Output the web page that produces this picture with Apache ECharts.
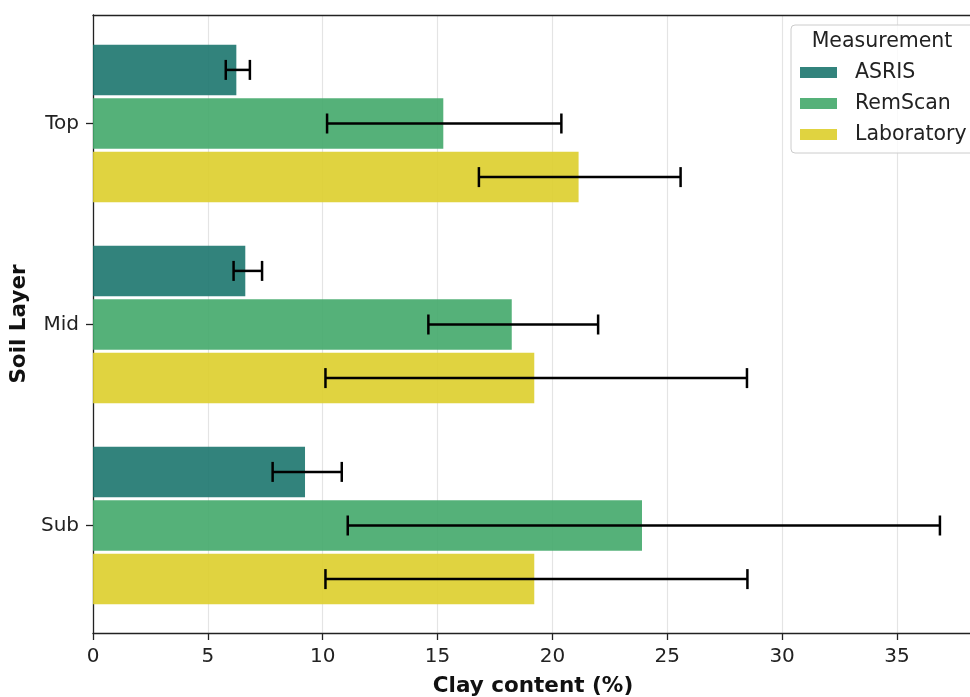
<!DOCTYPE html>
<html><head><meta charset="utf-8">
<script src="https://cdn.jsdelivr.net/npm/echarts@6/dist/echarts.min.js"></script>
<style>html,body{margin:0;padding:0;background:#fff;overflow:hidden}#c{width:970px;height:697px}</style>
</head><body><div id="c"></div>
<script>
var layers = ['Top', 'Mid', 'Sub'];
var seriesNames = ['ASRIS', 'RemScan', 'Laboratory'];
var asris = [6.24, 6.63, 9.23];
var remscan = [15.25, 18.23, 23.9];
var laboratory = [21.14, 19.21, 19.21];
// error bar extents [low, high]
var asrisErr = [[5.78, 6.83], [6.12, 7.36], [7.82, 10.83]];
var remscanErr = [[10.19, 20.39], [14.6, 21.99], [11.09, 36.87]];
var laboratoryErr = [[16.8, 25.58], [10.12, 28.47], [10.12, 28.49]];
var xTicks = [0, 5, 10, 15, 20, 25, 30, 35];

var colors = ['#1c756e', '#43a96a', '#ddce2b'];
var values = [asris, remscan, laboratory];
var errs = [asrisErr, remscanErr, laboratoryErr];
var XMAX = 38.31;
var FONT = 'DejaVu Sans';

var errData = [];
for (var k = 0; k < 3; k++) for (var c = 0; c < 3; c++) errData.push([c, errs[k][c][0], errs[k][c][1], k]);

var barSeries = seriesNames.map(function (n, k) {
  return {
    name: n, type: 'bar', xAxisIndex: 2, yAxisIndex: 1,
    data: values[k], barWidth: 50.5, barGap: '6.1%',
    itemStyle: { color: colors[k], opacity: 0.9 }, z: 2
  };
});

var chart = echarts.init(document.getElementById('c'), null, { renderer: 'canvas' });
chart.setOption({
  animation: false,
  backgroundColor: '#fff',
  textStyle: { fontFamily: FONT },
  grid: [
    { left: 93, right: -3, top: 15, bottom: 64, containLabel: false, outerBoundsMode: 'none' },
    { left: 93, right: -3, top: 23, height: 603, containLabel: false, outerBoundsMode: 'none' }
  ],
  xAxis: [
    { type: 'value', gridIndex: 0, min: 0, max: XMAX, interval: 5,
      axisLine: { show: true, lineStyle: { color: '#222', width: 1.3 } },
      axisTick: { show: true, length: 7, lineStyle: { color: '#222', width: 1.3 } },
      axisLabel: { fontSize: 20, color: '#222', fontFamily: FONT, margin: 14, showMaxLabel: false,
        formatter: function (v) { return xTicks.indexOf(v) >= 0 ? String(v) : ''; } },
      splitLine: { show: true, lineStyle: { color: '#e4e4e4', width: 1.2 } },
      name: 'Clay content (%)', nameLocation: 'middle', nameGap: 42,
      nameTextStyle: { fontSize: 21.5, fontWeight: 'bold', color: '#111', fontFamily: FONT } },
    { type: 'value', gridIndex: 0, position: 'top', min: 0, max: XMAX,
      axisLine: { show: true, onZero: false, lineStyle: { color: '#222', width: 1.3 } },
      axisTick: { show: false }, axisLabel: { show: false }, splitLine: { show: false } },
    { type: 'value', gridIndex: 1, min: 0, max: XMAX, show: false }
  ],
  yAxis: [
    { type: 'value', gridIndex: 0, min: 0, max: 1,
      axisLine: { show: true, lineStyle: { color: '#222', width: 1.3 } },
      axisTick: { show: false }, axisLabel: { show: false }, splitLine: { show: false },
      name: 'Soil Layer', nameLocation: 'middle', nameGap: 63, nameRotate: 90,
      nameTextStyle: { fontSize: 21.5, fontWeight: 'bold', color: '#111', fontFamily: FONT } },
    { type: 'category', gridIndex: 1, data: layers, inverse: true,
      axisLine: { show: false },
      axisTick: { show: true, alignWithLabel: true, length: 7, lineStyle: { color: '#222', width: 1.3 } },
      axisLabel: { fontSize: 20, color: '#222', fontFamily: FONT, margin: 14 } }
  ],
  legend: {
    data: seriesNames, orient: 'vertical', left: 800, top: 62, padding: 0, z: 60,
    itemWidth: 37, itemHeight: 11, itemGap: 10, icon: 'rect',
    textStyle: { fontSize: 20.5, lineHeight: 20, color: '#222', fontFamily: FONT, padding: [0, 0, 0, 13] }
  },
  graphic: [
    { type: 'rect', shape: { x: 791, y: 25, width: 200, height: 128, r: 4 },
      style: { fill: 'rgba(255,255,255,0.8)', stroke: '#cccccc', lineWidth: 1 }, z: 50 },
    { type: 'text', x: 882, y: 42, style: { text: 'Measurement', fontSize: 20.5, fontFamily: FONT,
      fill: '#222', align: 'center', verticalAlign: 'middle' }, z: 51 }
  ],
  series: barSeries.concat([{
    type: 'custom', xAxisIndex: 2, yAxisIndex: 1, data: errData, z: 5,
    encode: { x: [1, 2], y: 0 },
    renderItem: function (params, api) {
      var cat = api.value(0), lo = api.value(1), hi = api.value(2), k = api.value(3);
      var band = api.size([0, 1])[1];
      var off = (k - 1) * band * 0.8 / 3;
      var p1 = api.coord([lo, cat]), p2 = api.coord([hi, cat]);
      var y = p1[1] + off, cap = 10;
      var st = { stroke: '#000', lineWidth: 2.5 };
      return { type: 'group', children: [
        { type: 'line', shape: { x1: p1[0], y1: y, x2: p2[0], y2: y }, style: st },
        { type: 'line', shape: { x1: p1[0], y1: y - cap, x2: p1[0], y2: y + cap }, style: st },
        { type: 'line', shape: { x1: p2[0], y1: y - cap, x2: p2[0], y2: y + cap }, style: st }
      ] };
    }
  }])
});
</script></body></html>
